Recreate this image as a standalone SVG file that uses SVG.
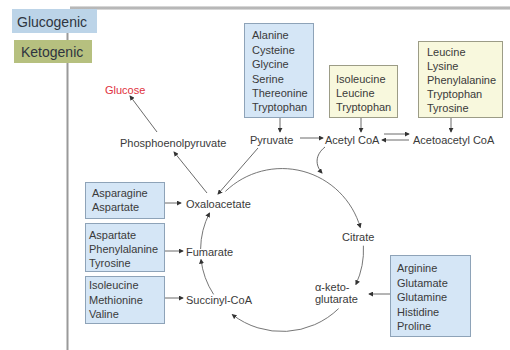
<svg xmlns="http://www.w3.org/2000/svg" width="510" height="350" viewBox="0 0 510 350">
<defs>
<marker id="ah" viewBox="0 0 6 6" refX="5" refY="3" markerWidth="5" markerHeight="5" markerUnits="userSpaceOnUse" orient="auto">
<path d="M0,0 L6,3 L0,6 z" fill="#333"/>
</marker>
<linearGradient id="topline" x1="0" y1="0" x2="0" y2="1">
<stop offset="0" stop-color="#e6e6e6"/>
<stop offset="0.5" stop-color="#a8a8a8"/>
<stop offset="1" stop-color="#e6e6e6"/>
</linearGradient>
</defs>
<style>
text{font-family:"Liberation Sans",Arial,sans-serif;font-size:11px;fill:#3a3a3a}
.blue{fill:#d5e6f6;stroke:#8ea3b8;stroke-width:1}
.yel{fill:#f8f8dd;stroke:#9c9c86;stroke-width:1}
.con{fill:none;stroke:#444;stroke-width:0.8;marker-end:url(#ah)}
.cyc{fill:none;stroke:#666;stroke-width:0.9;marker-end:url(#ah)}
.legend{font-size:14px;fill:#2e3440}
</style>
<rect width="510" height="350" fill="#fff"/>
<rect x="70" y="6" width="440" height="4" fill="url(#topline)"/>
<line x1="67.5" y1="32" x2="67.5" y2="350" stroke="#9a9a9a" stroke-width="2"/>

<g id="legend-glucogenic">
<rect x="12" y="9" width="85" height="24" fill="#bcd4e8"/>
<text class="legend" x="17" y="27">Glucogenic</text>
</g>
<g id="legend-ketogenic">
<rect x="14" y="40" width="78" height="23" fill="#b6c07f"/>
<text class="legend" x="21" y="57">Ketogenic</text>
</g>

<g id="connectors">
<line class="con" x1="280" y1="118" x2="280" y2="132"/>
<line class="con" x1="361" y1="118" x2="361" y2="132"/>
<line class="con" x1="451" y1="118" x2="451" y2="132"/>
<line class="con" x1="300" y1="138" x2="323" y2="138"/>
<line class="con" x1="384" y1="134" x2="409" y2="134"/>
<line class="con" x1="409" y1="140" x2="382" y2="140"/>
<line class="con" x1="258" y1="148" x2="218" y2="194"/>
<line class="con" x1="207" y1="193" x2="174" y2="152"/>
<line class="con" x1="157" y1="132" x2="130" y2="96"/>
<path class="con" d="M325,147 C315,155 315,165 322,173"/>
<line class="con" x1="165" y1="203" x2="181" y2="203"/>
<line class="con" x1="165" y1="251" x2="183" y2="251"/>
<line class="con" x1="165" y1="298" x2="183" y2="298"/>
<line class="con" x1="390" y1="294" x2="369" y2="294"/>
<path class="cyc" d="M225.4,191.4 A81.5,81.5 0 0 1 360.3,227.5"/>
<path class="cyc" d="M363.4,245.7 A81.5,81.5 0 0 1 355.9,284.4"/>
<path class="cyc" d="M338.6,308.6 A81.5,81.5 0 0 1 232.3,314.6"/>
<path class="cyc" d="M213.6,294.4 A81.5,81.5 0 0 1 201,259.5"/>
<path class="cyc" d="M200.6,249 A81.5,81.5 0 0 1 209.5,213"/>
</g>

<g id="box-pyruvate-sources">
<rect class="blue" x="244.5" y="23.5" width="69" height="94"/>
<text x="252" y="39">Alanine</text>
<text x="252" y="54">Cysteine</text>
<text x="252" y="68">Glycine</text>
<text x="252" y="83">Serine</text>
<text x="252" y="97">Thereonine</text>
<text x="252" y="111">Tryptophan</text>
</g>
<g id="box-acetylcoa-sources">
<rect class="yel" x="329.5" y="65.5" width="68" height="52"/>
<text x="336" y="83">Isoleucine</text>
<text x="336" y="97">Leucine</text>
<text x="336" y="111">Tryptophan</text>
</g>
<g id="box-acetoacetylcoa-sources">
<rect class="yel" x="418.5" y="41.5" width="84" height="76"/>
<text x="427" y="56">Leucine</text>
<text x="427" y="70">Lysine</text>
<text x="427" y="84">Phenylalanine</text>
<text x="427" y="98">Tryptophan</text>
<text x="427" y="112">Tyrosine</text>
</g>
<g id="box-oxaloacetate-sources">
<rect class="blue" x="85.5" y="182.5" width="79" height="36"/>
<text x="92" y="197">Asparagine</text>
<text x="92" y="211">Aspartate</text>
</g>
<g id="box-fumarate-sources">
<rect class="blue" x="85.5" y="223.5" width="79" height="48"/>
<text x="89" y="239">Aspartate</text>
<text x="89" y="253">Phenylalanine</text>
<text x="89" y="267">Tyrosine</text>
</g>
<g id="box-succinylcoa-sources">
<rect class="blue" x="85.5" y="276.5" width="79" height="47"/>
<text x="89" y="289">Isoleucine</text>
<text x="89" y="304">Methionine</text>
<text x="89" y="318">Valine</text>
</g>
<g id="box-akg-sources">
<rect class="blue" x="390.5" y="255.5" width="80" height="81"/>
<text x="397" y="272">Arginine</text>
<text x="397" y="287">Glutamate</text>
<text x="397" y="301">Glutamine</text>
<text x="397" y="316">Histidine</text>
<text x="397" y="330">Proline</text>
</g>

<g id="node-glucose"><text x="105" y="94" style="fill:#e0313d">Glucose</text></g>
<g id="node-pep"><text x="120" y="147">Phosphoenolpyruvate</text></g>
<g id="node-pyruvate"><text x="250" y="144">Pyruvate</text></g>
<g id="node-acetylcoa"><text x="325" y="144">Acetyl CoA</text></g>
<g id="node-acetoacetylcoa"><text x="413" y="144">Acetoacetyl CoA</text></g>
<g id="node-oxaloacetate"><text x="186" y="208">Oxaloacetate</text></g>
<g id="node-citrate"><text x="342" y="241">Citrate</text></g>
<g id="node-akg"><text x="315" y="291">α-keto-</text><text x="315" y="303">glutarate</text></g>
<g id="node-fumarate"><text x="186" y="256">Fumarate</text></g>
<g id="node-succinylcoa"><text x="186" y="304">Succinyl-CoA</text></g>
</svg>
